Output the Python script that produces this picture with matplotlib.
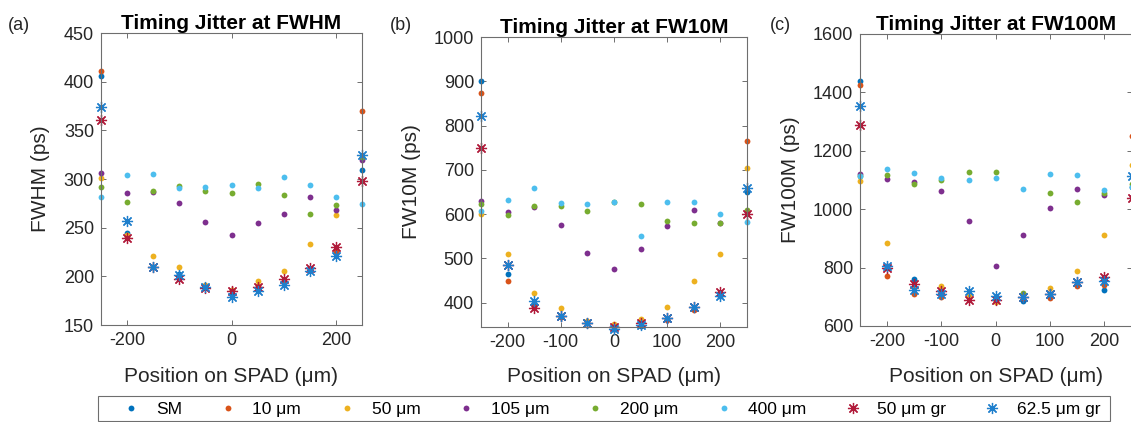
import matplotlib
matplotlib.use("Agg")
import matplotlib.pyplot as plt
from matplotlib.lines import Line2D
from matplotlib.patches import Rectangle

plt.rcParams['font.family'] = ['Liberation Sans', 'DejaVu Sans']
plt.rcParams['axes.unicode_minus'] = False

positions = [-250, -200, -150, -100, -50, 0, 50, 100, 150, 200, 250]
series_names = ['SM', '10 μm', '50 μm', '105 μm', '200 μm', '400 μm', '50 μm gr', '62.5 μm gr']

fwhm_sm   = [406, 245, 210, 202, 190, 181, 188, 193, 207, 224, 309]
fwhm_10   = [411, 240, 210, 199, 189, 186, 190, 196, 207, 226, 370]
fwhm_50   = [301, 242, 221, 210, 191, 186, 195, 205, 233, 263, 322]
fwhm_105  = [306, 286, 287, 275, 256, 242, 255, 264, 282, 268, 320]
fwhm_200  = [292, 276, 288, 293, 288, 286, 295, 284, 264, 273, 323]
fwhm_400  = [281, 304, 305, 291, 292, 294, 291, 302, 294, 282, 274]
fwhm_50gr = [361, 239, 210, 197, 188, 185, 189, 197, 209, 230, 298]
fwhm_62gr = [374, 257, 210, 201, 189, 179, 185, 191, 205, 221, 325]

fw10_sm   = [901, 465, 400, 370, 353, 341, 348, 364, 388, 415, 651]
fw10_10   = [873, 449, 390, 368, 353, 348, 355, 360, 383, 418, 766]
fw10_50   = [600, 511, 421, 389, 359, 351, 364, 391, 448, 509, 704]
fw10_105  = [629, 604, 615, 576, 513, 476, 521, 572, 609, 580, 605]
fw10_200  = [623, 598, 619, 619, 608, 627, 623, 585, 581, 580, 610]
fw10_400  = [608, 632, 659, 625, 623, 628, 551, 628, 627, 601, 583]
fw10_50gr = [749, 484, 389, 370, 353, 346, 353, 366, 391, 424, 600]
fw10_62gr = [821, 484, 404, 370, 355, 341, 350, 366, 391, 415, 660]

fw100_sm   = [1438, 802, 762, 711, 705, 695, 685, 708, 745, 725, 1077]
fw100_10   = [1424, 771, 711, 700, 700, 685, 695, 696, 736, 739, 1250]
fw100_50   = [1097, 883, 730, 736, 702, 682, 710, 730, 787, 913, 1153]
fw100_105  = [1122, 1102, 1094, 1064, 959, 805, 911, 1003, 1070, 1049, 1042]
fw100_200  = [1115, 1117, 1087, 1100, 1129, 1129, 714, 1055, 1026, 1054, 1085]
fw100_400  = [1113, 1139, 1125, 1106, 1100, 1108, 1070, 1122, 1116, 1067, 1075]
fw100_50gr = [1290, 797, 745, 719, 688, 690, 699, 711, 749, 768, 1040]
fw100_62gr = [1352, 805, 722, 710, 719, 702, 700, 711, 749, 753, 1112]

colors = ['#0072BD', '#D95319', '#EDB120', '#7E2F8E', '#77AC30', '#4DBEEE', '#B01A3A', '#1F7FCC']
markers = ['.', '.', '.', '.', '.', '.', (8, 2, 0), (8, 2, 0)]

panels = [
    dict(data=[fwhm_sm, fwhm_10, fwhm_50, fwhm_105, fwhm_200, fwhm_400, fwhm_50gr, fwhm_62gr],
         title='Timing Jitter at FWHM', ylabel='FWHM (ps)', ylim=(150, 450),
         yticks=[150, 200, 250, 300, 350, 400, 450], xticks=[-200, 0, 200],
         rect=(101, 33, 362, 325), tag='(a)', tagx=8, ylx=50),
    dict(data=[fw10_sm, fw10_10, fw10_50, fw10_105, fw10_200, fw10_400, fw10_50gr, fw10_62gr],
         title='Timing Jitter at FW10M', ylabel='FW10M (ps)', ylim=(345, 1000),
         yticks=[400, 500, 600, 700, 800, 900, 1000], xticks=[-200, -100, 0, 100, 200],
         rect=(481, 37, 747, 327), tag='(b)', tagx=390, ylx=421),
    dict(data=[fw100_sm, fw100_10, fw100_50, fw100_105, fw100_200, fw100_400, fw100_50gr, fw100_62gr],
         title='Timing Jitter at FW100M', ylabel='FW100M (ps)', ylim=(600, 1600),
         yticks=[600, 800, 1000, 1200, 1400, 1600], xticks=[-200, -100, 0, 100, 200],
         rect=(860, 34, 1131.5, 326), tag='(c)', tagx=770, ylx=800),
]

W, H = 1131, 422
fig = plt.figure(figsize=(W / 100, H / 100), dpi=100)
spine_c = '#6e6e6e'
text_c = '#262626'

for p in panels:
    l, t, r, b = p['rect']
    ax = fig.add_axes([l / W, (H - b) / H, (r - l) / W, (b - t) / H])
    for vals, c, m in zip(p['data'], colors, markers):
        if m == '.':
            ax.plot(positions, vals, linestyle='none', marker='o', markersize=4.2,
                    color=c, markeredgewidth=0, clip_on=False)
        else:
            ax.plot(positions, vals, linestyle='none', marker=m, markersize=8,
                    color=c, markeredgewidth=0.9, clip_on=False)
    ax.set_xlim(-250, 250)
    ax.set_ylim(*p['ylim'])
    ax.set_xticks(p['xticks'])
    ax.set_yticks(p['yticks'])
    ax.tick_params(direction='in', length=3.5, width=0.7, top=True, right=True,
                   labelsize=13, colors=spine_c, labelcolor=text_c, pad=5)
    for s in ax.spines.values():
        s.set_color(spine_c)
        s.set_linewidth(0.8)
    ax.set_title(p['title'], fontsize=15, fontweight='bold', pad=3, color='black')
    ax.set_xlabel('Position on SPAD (μm)', fontsize=15, color=text_c)
    ax.xaxis.set_label_coords(0.5, -(367 - b) / (b - t))
    ax.set_ylabel(p['ylabel'], fontsize=15, color=text_c)
    ax.yaxis.set_label_coords((p['ylx'] - l) / (r - l), 0.5)
    fig.text(p['tagx'] / W, (H - 25) / H, p['tag'], fontsize=13, va='center', ha='left', color=text_c)

handles = []
for c, m in zip(colors, markers):
    if m == '.':
        handles.append(Line2D([], [], linestyle='none', marker='o', markersize=4.2,
                              color=c, markeredgewidth=0))
    else:
        handles.append(Line2D([], [], linestyle='none', marker=m, markersize=8,
                              color=c, markeredgewidth=0.9))
leg = fig.legend(handles, series_names, loc='center', ncol=8,
                 bbox_to_anchor=(611.5 / W, (H - 409) / H), fontsize=12.5,
                 frameon=False, handlelength=1.0,
                 handletextpad=0.9, columnspacing=2.16, borderpad=0.3)

fig.add_artist(Rectangle((98 / W, (H - 421) / H), (1110 - 98) / W, 25 / H,
                         transform=fig.transFigure, fill=False,
                         edgecolor=spine_c, linewidth=0.8))

fig.savefig('out.png', dpi=100)
